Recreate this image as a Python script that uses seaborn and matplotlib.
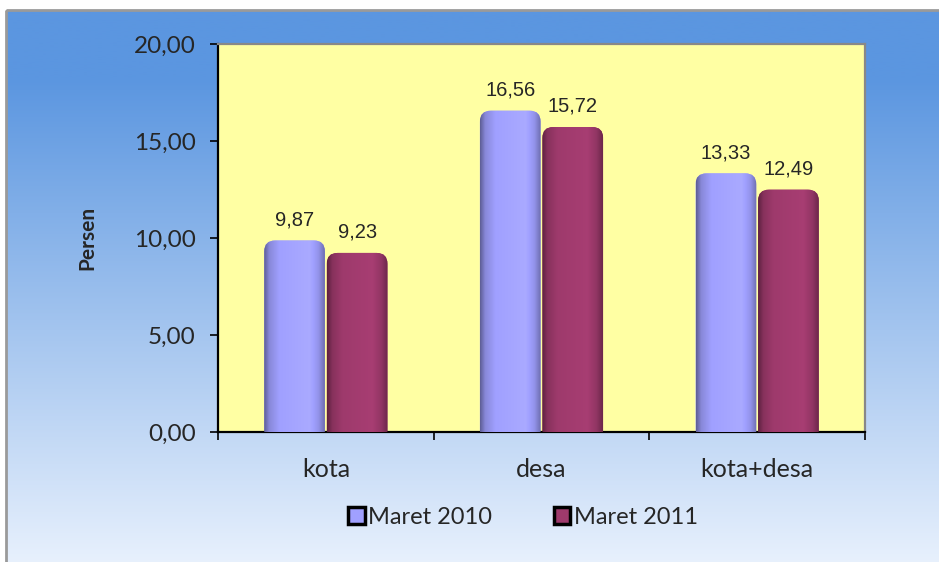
import numpy as np
import pandas as pd
import matplotlib.pyplot as plt
import seaborn as sns
from matplotlib.patches import FancyBboxPatch, Rectangle
from matplotlib.colors import to_rgb

# data
categories = ['kota', 'desa', 'kota+desa']
maret_2010 = [9.87, 16.56, 13.33]
maret_2011 = [9.23, 15.72, 12.49]
series = ['Maret 2010', 'Maret 2011']
colors = ['#A0A0FF', '#9E3A6C']
yticks = [0, 5, 10, 15, 20]

df = pd.DataFrame({
    'kategori': categories * 2,
    'persen': maret_2010 + maret_2011,
    'tahun': [series[0]] * 3 + [series[1]] * 3,
})

sns.set_style('white')
plt.rcParams['font.family'] = ['Lato', 'DejaVu Sans']

W, H = 939, 562
fig = plt.figure(figsize=(W / 100, H / 100), dpi=100)
fig.patch.set_facecolor('white')

# blue gradient background of the chart area
bg = fig.add_axes([0, 0, 1, 1], zorder=-10)
bg.set_xlim(0, W)
bg.set_ylim(H, 0)
bg.axis('off')
t = np.linspace(0, 1, 300)
top = np.array([91, 150, 224]) / 255
bot = np.array([237, 244, 254]) / 255
k = np.clip((t - 0.12) / 0.88, 0, 1)[:, None]
grad = (top * (1 - k) + bot * k)[:, None, :]
bg.imshow(grad, extent=[6, W + 20, H + 20, 10], aspect='auto', interpolation='bilinear')
bg.add_patch(Rectangle((6, 10), W + 20, H + 20, fill=False, edgecolor='#9a9a9a', linewidth=2))

# plot area
ax = fig.add_axes([218 / W, 1 - 432 / H, (865 - 218) / W, (432 - 44) / H])
ax.set_facecolor('#FFFFA3')
sns.barplot(data=df, x='kategori', y='persen', hue='tahun', palette=colors,
            width=0.58, gap=0.03, legend=False, ax=ax)
ax.set_ylim(0, 20)
ax.set_xlim(-0.5, 2.5)

aspect = (388 / 20) / (647 / 3)  # data-unit ratio for rounded corners


def shade(c):
    c = np.array(to_rgb(c))
    xs = np.linspace(0, 1, 60)
    f = np.interp(xs, [0, 0.08, 0.25, 0.75, 0.9, 1.0], [0.6, 0.85, 1.0, 1.06, 0.92, 0.7])
    row = np.clip(c[None, :] * f[:, None], 0, 1)
    return row[None, :, :]


for bars, col, vals in zip(ax.containers, colors, [maret_2010, maret_2011]):
    for bar, v in zip(bars, vals):
        x, w, h = bar.get_x(), bar.get_width(), bar.get_height()
        bar.set_visible(False)
        rb = FancyBboxPatch((x, -1), w, h + 1,
                            boxstyle='round,pad=0,rounding_size=0.05',
                            mutation_aspect=1 / aspect,
                            facecolor=col, edgecolor='none', zorder=2)
        ax.add_patch(rb)
        im = ax.imshow(shade(col), extent=[x, x + w, -1, h], aspect='auto',
                       zorder=3, interpolation='bilinear')
        im.set_clip_path(rb)
        ax.annotate(f'{v:.2f}'.replace('.', ','), (x + w / 2, h),
                    xytext=(0, 11), textcoords='offset points',
                    ha='center', va='baseline', fontsize=14.5,
                    family=['Liberation Sans'], zorder=5)

ax.set_aspect('auto')
ax.set_xlim(-0.5, 2.5)
ax.set_ylim(0, 20)

ax.set_yticks(yticks)
ax.set_yticklabels([f'{v:.2f}'.replace('.', ',') for v in yticks], fontsize=17.5)
ax.set_xticks(range(len(categories)))
ax.set_xticklabels(categories, fontsize=18)
ax.set_xticks([-0.5, 0.5, 1.5, 2.5], minor=True)
ax.tick_params(axis='x', which='major', length=0, pad=19)
ax.tick_params(axis='x', which='minor', length=6, width=1.2, direction='out', bottom=True, color='black')
ax.tick_params(axis='y', length=6, width=1.2, direction='out', left=True, color='black', pad=10)
ax.set_xlabel('')
ax.set_ylabel('Persen', fontsize=15, fontweight='bold', labelpad=26)

for s in ['left', 'bottom']:
    ax.spines[s].set_color('black')
    ax.spines[s].set_linewidth(1.6)
for s in ['top', 'right']:
    ax.spines[s].set_color('#888888')
    ax.spines[s].set_linewidth(1.6)
ax.set_zorder(1)

handles = [Rectangle((0, 0), 1, 1, facecolor=c, edgecolor='black', linewidth=2.5) for c in colors]
fig.legend(handles, series, loc='center', bbox_to_anchor=(523 / W, 1 - 517 / H),
           ncol=2, frameon=False, fontsize=17, handlelength=0.7, handleheight=0.7,
           handletextpad=0.15, columnspacing=2.6)

fig.savefig('out.png', dpi=100)
